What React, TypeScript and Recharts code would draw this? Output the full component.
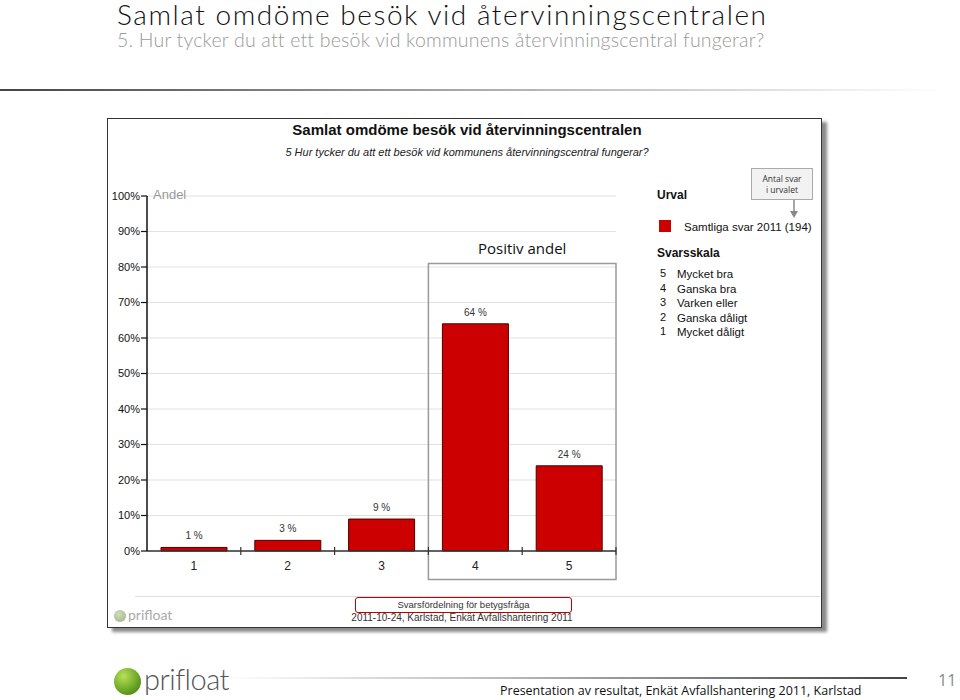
import React from "react";
import {
  BarChart,
  Bar,
  XAxis,
  YAxis,
  CartesianGrid,
  LabelList,
  ReferenceArea,
} from "recharts";

// svarsskala 1..5 och andel svar (%)
const scaleSteps = ["1", "2", "3", "4", "5"];
const andelValues = [1, 3, 9, 64, 24];
const yTicks = [0, 10, 20, 30, 40, 50, 60, 70, 80, 90, 100];
const legendNumbers = ["5", "4", "3", "2", "1"];
const legendTexts = ["Mycket bra", "Ganska bra", "Varken eller", "Ganska dåligt", "Mycket dåligt"];
const urvalLabel = "Samtliga svar 2011 (194)";

const data = scaleSteps.map((s, i) => ({ steg: s, andel: andelValues[i] }));

const ARIAL = "Arial, 'Liberation Sans', sans-serif";

const CatTick = (props: any) => {
  const { x, y, payload } = props;
  const off = payload.offset ?? 0;
  return (
    <g>
      <text x={x} y={y + 19} textAnchor="middle" fontSize={12} fill="#222" fontFamily={ARIAL}>
        {payload.value}
      </text>
      <line x1={x + off} x2={x + off} y1={y - 4} y2={y + 4} stroke="#333" strokeWidth={1.2} />
    </g>
  );
};

const abs = (s: React.CSSProperties): React.CSSProperties => ({ position: "absolute", ...s });

export default function App() {
  return (
    <div style={abs({ left: 0, top: 0, width: 960, height: 700, background: "#fff", overflow: "hidden" })}>
      {/* sidhuvud */}
      <div
        style={abs({
          left: 117,
          top: 0,
          fontFamily: "Lato, sans-serif",
          fontWeight: 300,
          fontSize: 28,
          lineHeight: "28px",
          letterSpacing: 1.55,
          color: "#111",
          whiteSpace: "nowrap",
        })}
      >
        Samlat omdöme besök vid återvinningscentralen
      </div>
      <div
        style={abs({
          left: 117,
          top: 29,
          fontFamily: "Lato, sans-serif",
          fontWeight: 300,
          fontSize: 19.5,
          lineHeight: "22px",
          letterSpacing: 0.2,
          color: "#9a9a9a",
          whiteSpace: "nowrap",
        })}
      >
        5. Hur tycker du att ett besök vid kommunens återvinningscentral fungerar?
      </div>
      <div
        style={abs({
          left: 0,
          top: 89,
          width: 940,
          height: 2,
          background: "linear-gradient(to right, #444 0%, #aaa 50%, rgba(255,255,255,0) 100%)",
        })}
      />

      {/* diagrampanel */}
      <div
        style={abs({
          left: 107,
          top: 118,
          width: 713,
          height: 508,
          border: "1px solid #333",
          background: "#fff",
          boxShadow: "5px 4px 3px #8a8a8a",
        })}
      />
      <div
        style={abs({
          left: 107,
          top: 121,
          width: 720,
          textAlign: "center",
          fontFamily: ARIAL,
          fontWeight: "bold",
          fontSize: 15,
          color: "#111",
        })}
      >
        Samlat omdöme besök vid återvinningscentralen
      </div>
      <div
        style={abs({
          left: 107,
          top: 146,
          width: 720,
          textAlign: "center",
          fontFamily: ARIAL,
          fontStyle: "italic",
          fontSize: 11,
          color: "#222",
        })}
      >
        5 Hur tycker du att ett besök vid kommunens återvinningscentral fungerar?
      </div>

      <div style={abs({ left: 107, top: 118, width: 714, height: 509 })}>
        <BarChart
          width={714}
          height={509}
          data={data}
          margin={{ top: 78, right: 205, bottom: 46, left: 6 }}
        >
          <CartesianGrid vertical={false} stroke="#e2e2e2" strokeWidth={1.2} />
          <XAxis
            dataKey="steg"
            height={30}
            tickSize={0}
            tickMargin={0}
            tickLine={false}
            axisLine={{ stroke: "#333", strokeWidth: 1.5 }}
            tick={<CatTick />}
          />
          <YAxis
            width={34}
            domain={[0, 100]}
            ticks={yTicks}
            interval={0}
            tickSize={6}
            tickMargin={1}
            axisLine={{ stroke: "#111", strokeWidth: 1.5 }}
            tickLine={{ stroke: "#111", strokeWidth: 1.2 }}
            tick={{ fontSize: 11, fill: "#111", fontFamily: ARIAL }}
            tickFormatter={(v) => `${v}%`}
          />
          <ReferenceArea
            x1="4"
            x2="5"
            y1={-8}
            y2={81}
            ifOverflow="visible"
            fill="none"
            stroke="#9a9a9a"
            strokeWidth={1.5}
            label={{
              value: "Positiv andel",
              position: "top",
              offset: 9,
              fontSize: 15,
              fill: "#111",
              fontFamily: "'Open Sans', sans-serif",
            }}
          />
          <Bar
            dataKey="andel"
            fill="#cc0000"
            stroke="#4d0000"
            strokeWidth={1}
            barSize={66}
            isAnimationActive={false}
          >
            <LabelList
              dataKey="andel"
              position="top"
              offset={8}
              formatter={(v: any) => `${v} %`}
              style={{ fontSize: 10, fill: "#333", fontFamily: ARIAL }}
            />
          </Bar>
        </BarChart>
      </div>

      <div style={abs({ left: 153, top: 187, fontFamily: ARIAL, fontSize: 13, color: "#999" })}>Andel</div>

      {/* legend */}
      <div style={abs({ left: 657, top: 188, fontFamily: ARIAL, fontWeight: "bold", fontSize: 12, color: "#111" })}>
        Urval
      </div>
      <div style={abs({ left: 659, top: 220, width: 12, height: 12, background: "#cc0000" })} />
      <div style={abs({ left: 684, top: 221, fontFamily: ARIAL, fontSize: 11.5, color: "#111" })}>{urvalLabel}</div>
      <div style={abs({ left: 657, top: 246, fontFamily: ARIAL, fontWeight: "bold", fontSize: 12, color: "#111" })}>
        Svarsskala
      </div>
      {legendNumbers.map((n, i) => (
        <React.Fragment key={n}>
          <div style={abs({ left: 660, top: 267 + i * 14.6, fontFamily: ARIAL, fontSize: 11, color: "#111" })}>{n}</div>
          <div style={abs({ left: 677, top: 268 + i * 14.6, fontFamily: ARIAL, fontSize: 11.5, color: "#111" })}>
            {legendTexts[i]}
          </div>
        </React.Fragment>
      ))}

      {/* förklaringsruta */}
      <div
        style={abs({
          left: 751,
          top: 168,
          width: 62,
          height: 32,
          background: "#f2f2f2",
          border: "1px solid #aaa",
          fontFamily: "'Open Sans', sans-serif",
          fontSize: 8.5,
          lineHeight: "11px",
          color: "#333",
          textAlign: "center",
          paddingTop: 4,
          boxSizing: "border-box",
        })}
      >
        Antal svar
        <br />i urvalet
      </div>
      <svg style={abs({ left: 788, top: 200 })} width={14} height={20}>
        <line x1={6} x2={6} y1={0} y2={12} stroke="#888" strokeWidth={1.5} />
        <polygon points="2,11 10,11 6,18" fill="#888" />
      </svg>

      {/* panelfot */}
      <div style={abs({ left: 135, top: 596, width: 685, height: 1, background: "#ddd" })} />
      <div
        style={abs({
          left: 355,
          top: 597,
          width: 217,
          height: 16,
          border: "1.5px solid #c00000",
          borderRadius: 3,
          boxSizing: "border-box",
          textAlign: "center",
          fontFamily: ARIAL,
          fontSize: 9.5,
          lineHeight: "14px",
          color: "#333",
        })}
      >
        Svarsfördelning för betygsfråga
      </div>
      <div
        style={abs({
          left: 312,
          top: 612,
          width: 300,
          textAlign: "center",
          fontFamily: ARIAL,
          fontSize: 10,
          color: "#333",
          whiteSpace: "nowrap",
        })}
      >
        2011-10-24, Karlstad, Enkät Avfallshantering 2011
      </div>
      <div
        style={abs({
          left: 114,
          top: 610,
          width: 12,
          height: 12,
          borderRadius: 6,
          background: "radial-gradient(circle at 40% 35%, #cfe0b8, #9aae88)",
        })}
      />
      <div style={abs({ left: 128, top: 606, fontFamily: "Lato, sans-serif", fontSize: 14, color: "#aaa" })}>
        prifloat
      </div>

      {/* sidfot */}
      <div
        style={abs({
          left: 114,
          top: 668,
          width: 27,
          height: 27,
          borderRadius: 14,
          background: "radial-gradient(circle at 35% 30%, #b9e05a, #6da825 55%, #3f6e12)",
        })}
      />
      <div
        style={abs({
          left: 144,
          top: 661,
          fontFamily: "Lato, sans-serif",
          fontWeight: 300,
          fontSize: 29,
          color: "#555",
          letterSpacing: -0.5,
        })}
      >
        prifloat
      </div>
      <div
        style={abs({
          left: 225,
          top: 677,
          width: 682,
          height: 2,
          background: "linear-gradient(to right, rgba(255,255,255,0) 0%, #bbb 40%, #444 100%)",
        })}
      />
      <div
        style={abs({
          left: 500,
          top: 682,
          fontFamily: "'Open Sans', sans-serif",
          fontSize: 12.5,
          color: "#111",
          whiteSpace: "nowrap",
        })}
      >
        Presentation av resultat, Enkät Avfallshantering 2011, Karlstad
      </div>
      <div style={abs({ left: 938, top: 669, fontFamily: "'Open Sans', sans-serif", fontSize: 16, color: "#888" })}>
        11
      </div>
    </div>
  );
}
